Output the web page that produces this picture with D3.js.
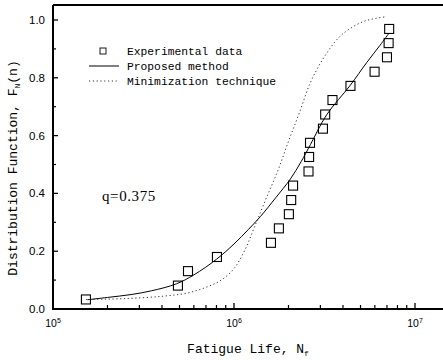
<!DOCTYPE html>
<html><head><meta charset="utf-8">
<script src="https://cdn.jsdelivr.net/npm/d3@7"></script>
<style>body{margin:0;background:#fff}svg{display:block}</style>
</head><body>
<script>
// ---- data ----
const expN = [1.52e5,4.9e5,5.57e5,8.05e5,1.6e6,1.77e6,2.01e6,2.07e6,2.12e6,2.58e6,2.6e6,2.63e6,3.1e6,3.19e6,3.5e6,4.4e6,5.98e6,7.0e6,7.15e6,7.2e6];
const expF = [0.033,0.081,0.131,0.180,0.229,0.279,0.328,0.377,0.427,0.476,0.526,0.575,0.624,0.673,0.723,0.772,0.821,0.871,0.920,0.969];
const propN = [1.55e5,2.0e5,2.7e5,3.5e5,4.8e5,6.0e5,8.0e5,1.0e6,1.2e6,1.4e6,1.7e6,2.05e6,2.35e6,2.65e6,3.25e6,4.4e6,5.4e6,6.4e6,7.2e6];
const propF = [0.032,0.040,0.050,0.063,0.087,0.118,0.172,0.225,0.275,0.320,0.385,0.450,0.510,0.570,0.672,0.775,0.852,0.912,0.955];
const minN = [1.52e5,2.5e5,4e5,5.5e5,7e5,8.5e5,1.0e6,1.15e6,1.3e6,1.5e6,1.75e6,2.0e6,2.3e6,2.65e6,3.1e6,3.8e6,4.5e6,5.2e6,6.0e6,7.0e6];
const minF = [0.033,0.036,0.044,0.055,0.075,0.100,0.140,0.205,0.285,0.380,0.480,0.580,0.680,0.785,0.865,0.940,0.975,0.995,1.005,1.012];
const yTicks = [0,0.2,0.4,0.6,0.8,1.0];
const yMinor = [0.1,0.3,0.5,0.7,0.9];
const xExp = [5,6,7];
const legendLabels = ["Experimental data","Proposed method","Minimization technique"];
const annotation = "q=0.375";

const W=443,H=360;
const svg=d3.select("body").append("svg").attr("width",W).attr("height",H);
const x0=d3.scaleLog().domain([1e5,1e7]).range([53,415]);
const xMax=x0.invert(445);
const x=d3.scaleLog().domain([1e5,xMax]).range([53,445]);
const y=d3.scaleLinear().domain([0,1.0]).range([309,20]);
const yTop=y(1.052);

// frame
svg.append("line").attr("x1",53).attr("x2",W).attr("y1",yTop).attr("y2",yTop).attr("stroke","#000").attr("stroke-width",2);
svg.append("line").attr("x1",53).attr("x2",53).attr("y1",yTop).attr("y2",y(0)).attr("stroke","#000").attr("stroke-width",2);
svg.append("line").attr("x1",52).attr("x2",W).attr("y1",y(0)).attr("y2",y(0)).attr("stroke","#000").attr("stroke-width",2);

// y ticks
const g=svg.append("g");
yTicks.forEach(v=>{
  g.append("line").attr("x1",53).attr("x2",58).attr("y1",y(v)).attr("y2",y(v)).attr("stroke","#000").attr("stroke-width",1.3);
  g.append("text").attr("x",45).attr("y",y(v)+4).attr("text-anchor","end")
   .attr("font-family","Liberation Sans, Arial, sans-serif").attr("font-size",11.5).text(d3.format(".1f")(v));
});
yMinor.forEach(v=>{
  g.append("line").attr("x1",53).attr("x2",56).attr("y1",y(v)).attr("y2",y(v)).attr("stroke","#000").attr("stroke-width",1.2);
});
// x ticks
xExp.forEach(e=>{
  const v=Math.pow(10,e);
  g.append("line").attr("x1",x(v)).attr("x2",x(v)).attr("y1",y(0)).attr("y2",y(0)-6).attr("stroke","#000").attr("stroke-width",1.3);
  const t=g.append("text").attr("x",x(v)).attr("y",327).attr("text-anchor","middle")
   .attr("font-family","Liberation Sans, Arial, sans-serif").attr("font-size",10.5);
  t.append("tspan").text("10");
  t.append("tspan").attr("dy",-4).attr("font-size",7).text(e);
  for(let m=2;m<=9;m++){
    const mv=m*v;
    if(mv<xMax) g.append("line").attr("x1",x(mv)).attr("x2",x(mv)).attr("y1",y(0)).attr("y2",y(0)-4).attr("stroke","#000").attr("stroke-width",1.2);
  }
});

// axis titles
const yt=svg.append("text").attr("transform","translate(17,168) rotate(-90)").attr("text-anchor","middle")
  .attr("font-family","Liberation Mono, monospace").attr("font-size",13);
yt.append("tspan").text("Distribution Function, F");
yt.append("tspan").attr("dy",3).attr("font-size",8).text("N");
yt.append("tspan").attr("dy",-3).text("(n)");
const xt=svg.append("text").attr("x",248).attr("y",353).attr("text-anchor","middle")
  .attr("font-family","Liberation Mono, monospace").attr("font-size",13);
xt.append("tspan").text("Fatigue Life, N");
xt.append("tspan").attr("dy",3).attr("font-size",8).text("f");

// curves
const line=d3.line().x(d=>x(d[0])).y(d=>y(d[1])).curve(d3.curveCatmullRom.alpha(0.5));
svg.append("path").datum(propN.map((n,i)=>[n,propF[i]])).attr("d",line).attr("fill","none").attr("stroke","#000").attr("stroke-width",1);
svg.append("path").datum(minN.map((n,i)=>[n,minF[i]])).attr("d",line).attr("fill","none").attr("stroke","#333").attr("stroke-width",1).attr("stroke-dasharray","1.2,2.6");

// markers
svg.selectAll("rect.pt").data(expN.map((n,i)=>[n,expF[i]])).enter().append("rect")
  .attr("x",d=>x(d[0])-4.5).attr("y",d=>y(d[1])-4.5).attr("width",9).attr("height",9)
  .attr("fill","none").attr("stroke","#000").attr("stroke-width",1.1);

// legend
const lf="Liberation Mono, monospace";
svg.append("rect").attr("x",100).attr("y",48).attr("width",6).attr("height",6).attr("fill","none").attr("stroke","#000").attr("stroke-width",0.9);
svg.append("line").attr("x1",89).attr("x2",119).attr("y1",66).attr("y2",66).attr("stroke","#000").attr("stroke-width",1);
svg.append("line").attr("x1",89).attr("x2",119).attr("y1",81).attr("y2",81).attr("stroke","#333").attr("stroke-width",1).attr("stroke-dasharray","1.2,2.6");
legendLabels.forEach((s,i)=>{
  svg.append("text").attr("x",127).attr("y",55+i*15).attr("font-family",lf).attr("font-size",11.3).text(s);
});

// annotation
svg.append("text").attr("x",102).attr("y",201).attr("font-family","Liberation Serif, Times New Roman, serif")
  .attr("font-size",15).attr("letter-spacing",0.6).text(annotation);
</script>
</body></html>
